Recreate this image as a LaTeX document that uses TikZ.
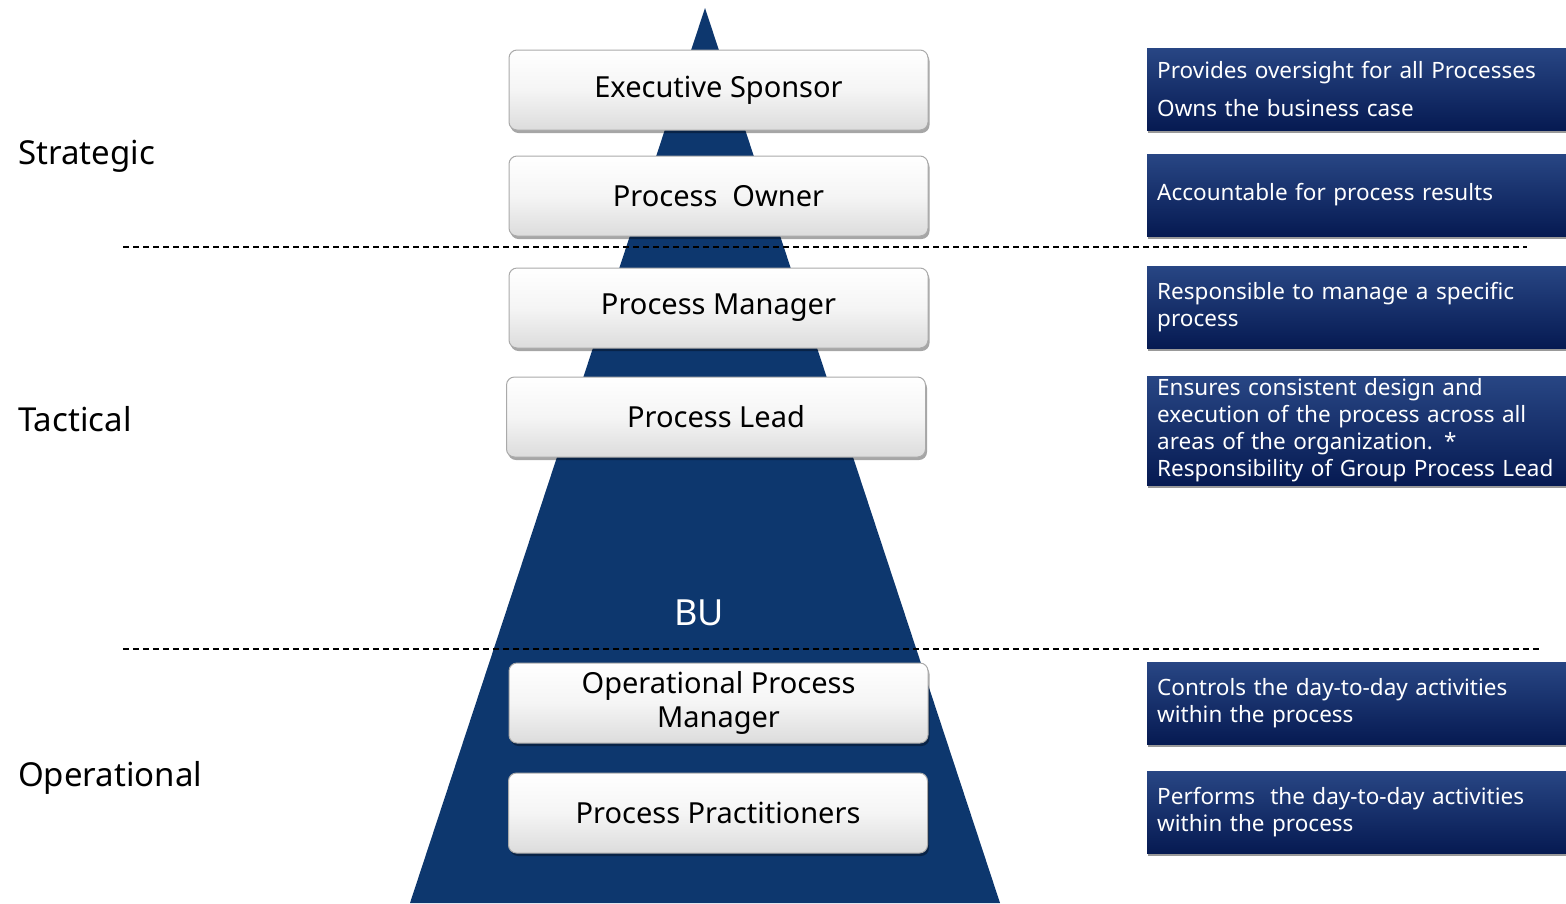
\documentclass[tikz,border=0pt]{standalone}
\usepackage{fontspec}
\setmainfont{Noto Sans}
\usetikzlibrary{shadows}
\definecolor{navy}{RGB}{13,55,110}
\definecolor{boxtop}{RGB}{40,70,132}
\definecolor{boxmid}{RGB}{10,33,96}
\definecolor{boxbot}{RGB}{6,26,82}
\definecolor{grayedge}{RGB}{170,170,170}
\definecolor{graybot}{RGB}{220,220,220}
\begin{document}
\begin{tikzpicture}[x=1pt,y=-1pt,
  graybox/.style={draw=grayedge, line width=1pt, rounded corners=8pt,
    top color=white, bottom color=graybot, middle color=white!96!black,
    minimum width=419pt, minimum height=80pt, inner sep=0pt,
    font=\fontsize{29}{34}\selectfont, align=center,
    drop shadow={shadow xshift=1.5pt, shadow yshift=-3pt, opacity=0.35, fill=black}},
  bluebox/.style={anchor=west, draw=none, top color=boxtop, middle color=boxmid, bottom color=boxbot,
    minimum width=430pt, inner xsep=10pt, inner ysep=0pt, text width=410pt,
    align=left, text=white, font=\fontsize{22.5}{27}\selectfont,
    drop shadow={shadow xshift=1pt, shadow yshift=-3pt, opacity=0.4, fill=black}},
  levellabel/.style={anchor=base west, inner sep=0pt, font=\fontsize{33}{38}\selectfont},
  dashline/.style={draw=black, line width=1.2pt, dash pattern=on 6pt off 4pt}
]
\useasboundingbox (0,0) rectangle (1566,903);
\fill[white] (0,0) rectangle (1566,903);

% pyramid
\fill[navy] (705,8) -- (1000,903) -- (410,903) -- cycle;

% dashed separators
\coordinate (d1l) at (123,247);
\coordinate (d1r) at (1527,247);
\coordinate (d2l) at (123,649);
\coordinate (d2r) at (1540,649);
\draw[dashline] (d1l) -- (d1r);
\draw[dashline] (d2l) -- (d2r);

% level labels
\node[levellabel] (strategic) at (18,164) {Strategic};
\node[levellabel] (tactical) at (18,431) {Tactical};
\node[levellabel] (operational) at (18,786) {Operational};

% BU
\node[anchor=base, inner sep=0pt, text=white, font=\fontsize{36}{40}\selectfont] (bu) at (699,625) {BU};

% role boxes
\node[graybox] (exec) at (718.5,90) {\raisebox{-2pt}{Executive Sponsor}};
\node[graybox] (owner) at (718.5,196) {Process\ \ Owner};
\node[graybox] (pm) at (718.5,308) {\raisebox{-2pt}{Process Manager}};
\node[graybox] (lead) at (716,417) {Process Lead};
\node[graybox] (opm) at (718.5,703) {Operational Process\\Manager};
\node[graybox] (prac) at (718,813) {Process Practitioners};

% description boxes
\node[bluebox, minimum height=82pt] (dexec) at (1147,89) {Provides oversight for all Processes\\[11pt]Owns the business case};
\node[bluebox, minimum height=82pt] (downer) at (1147,195) {Accountable for process results};
\node[bluebox, minimum height=82pt] (dpm) at (1147,307) {Responsible to manage a specific\\process};
\node[bluebox, minimum height=109pt] (dlead) at (1147,430.5) {Ensures consistent design and\\execution of the process across all\\areas of the organization. *\\Responsibility of Group Process Lead};
\node[bluebox, minimum height=82pt] (dopm) at (1147,703) {Controls the day-to-day activities\\within the process};
\node[bluebox, minimum height=82pt] (dprac) at (1147,812) {Performs\ \ the day-to-day activities\\within the process};
\end{tikzpicture}
\end{document}
